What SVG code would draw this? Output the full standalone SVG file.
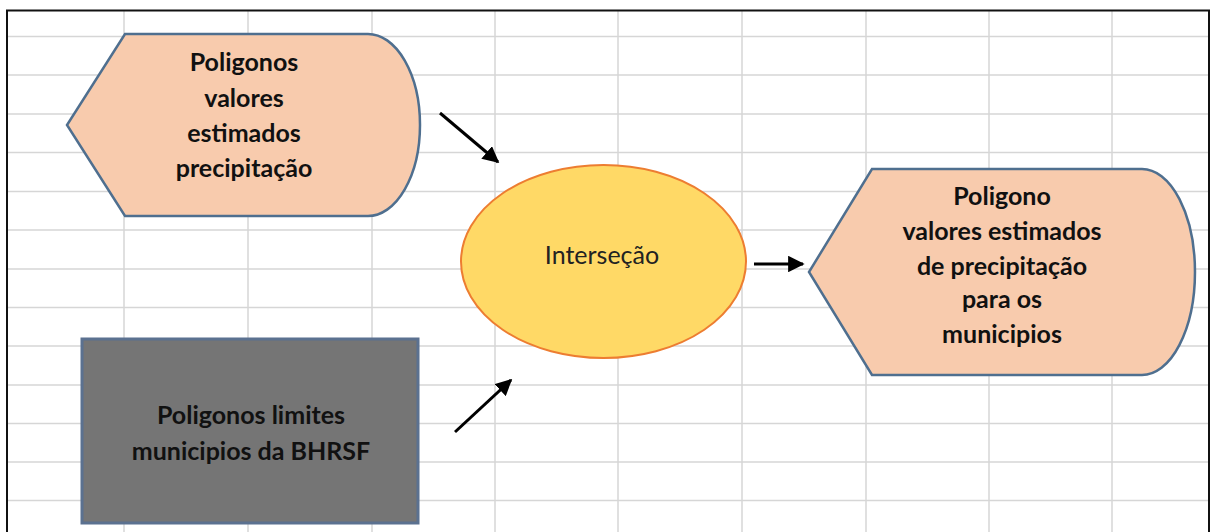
<svg xmlns="http://www.w3.org/2000/svg" width="1211" height="532" viewBox="0 0 1211 532">
  <defs>
    <marker id="arrowhead" viewBox="0 0 10 10" refX="9" refY="5" markerWidth="5.5" markerHeight="5.5" orient="auto" markerUnits="strokeWidth">
      <path d="M0,0 L10,5 L0,10 Z" fill="#000"/>
    </marker>
    <style>
      .grid line { stroke: #d6d6d6; stroke-width: 1.5; }
      .display { fill: #f8cbad; stroke: #4f6f8f; stroke-width: 2.5; }
      .label { font-family: Lato, "Open Sans", sans-serif; font-weight: bold; font-size: 25px; fill: #111; text-anchor: middle; }
      .conn { stroke: #000; stroke-width: 3; fill: none; marker-end: url(#arrowhead); }
    </style>
  </defs>

  <rect x="0" y="0" width="1211" height="532" fill="#fff"/>

  <!-- spreadsheet grid behind the flowchart -->
  <g class="grid">
    <line x1="124" y1="11" x2="124" y2="532"/>
    <line x1="248" y1="11" x2="248" y2="532"/>
    <line x1="372" y1="11" x2="372" y2="532"/>
    <line x1="495" y1="11" x2="495" y2="532"/>
    <line x1="618" y1="11" x2="618" y2="532"/>
    <line x1="742" y1="11" x2="742" y2="532"/>
    <line x1="866" y1="11" x2="866" y2="532"/>
    <line x1="989" y1="11" x2="989" y2="532"/>
    <line x1="1112" y1="11" x2="1112" y2="532"/>
    <line x1="7" y1="36.5" x2="1208" y2="36.5"/>
    <line x1="7" y1="75" x2="1208" y2="75"/>
    <line x1="7" y1="114" x2="1208" y2="114"/>
    <line x1="7" y1="152.5" x2="1208" y2="152.5"/>
    <line x1="7" y1="191.5" x2="1208" y2="191.5"/>
    <line x1="7" y1="230" x2="1208" y2="230"/>
    <line x1="7" y1="269" x2="1208" y2="269"/>
    <line x1="7" y1="307.5" x2="1208" y2="307.5"/>
    <line x1="7" y1="346" x2="1208" y2="346"/>
    <line x1="7" y1="385" x2="1208" y2="385"/>
    <line x1="7" y1="423.5" x2="1208" y2="423.5"/>
    <line x1="7" y1="462" x2="1208" y2="462"/>
    <line x1="7" y1="500.5" x2="1208" y2="500.5"/>
  </g>

  <!-- outer frame -->
  <path d="M7,532 L7,10.5 L1209,10.5 L1209,532" fill="none" stroke="#111" stroke-width="2"/>

  <!-- connectors -->
  <g id="connectors">
    <line class="conn" x1="440" y1="113" x2="498" y2="162"/>
    <line class="conn" x1="455" y1="432" x2="511" y2="380"/>
    <line class="conn" x1="754" y1="264" x2="803" y2="264"/>
  </g>

  <g id="node-precipitacao">
    <path class="display" d="M125,34 L368,34 A52,91 0 0 1 368,216 L125,216 L67,125 Z"/>
    <text class="label" x="244" y="71">Poligonos</text>
    <text class="label" x="244" y="107">valores</text>
    <text class="label" x="244" y="142">estimados</text>
    <text class="label" x="244" y="177">precipitação</text>
  </g>

  <g id="node-intersecao">
    <ellipse cx="603.5" cy="261.5" rx="142.5" ry="96.5" fill="#ffd966" stroke="#ed7d31" stroke-width="2"/>
    <text x="602" y="264" font-family="Lato, 'Open Sans', sans-serif" font-size="25" fill="#222" text-anchor="middle">Interseção</text>
  </g>

  <g id="node-resultado">
    <path class="display" d="M872,169 L1142,169 A53,103 0 0 1 1142,375 L872,375 L809,272 Z"/>
    <text class="label" x="1002" y="205">Poligono</text>
    <text class="label" x="1002" y="240">valores estimados</text>
    <text class="label" x="1002" y="275">de precipitação</text>
    <text class="label" x="1002" y="308">para os</text>
    <text class="label" x="1002" y="343">municipios</text>
  </g>

  <g id="node-limites">
    <rect x="82" y="339" width="336" height="184" fill="#757575" stroke="#5b7190" stroke-width="3"/>
    <text class="label" x="251" y="424">Poligonos limites</text>
    <text class="label" x="251" y="460">municipios da BHRSF</text>
  </g>
</svg>
